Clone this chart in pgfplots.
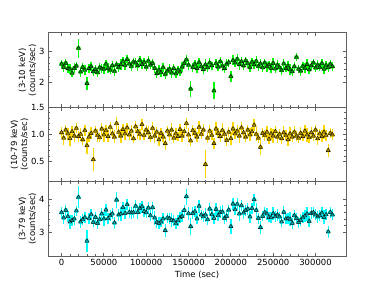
\documentclass[border=0pt]{standalone}
\usepackage{fontspec}
\setmainfont{DejaVu Sans}
\usepackage{pgfplots}
\usepackage{pgfplotstable}
\pgfplotsset{compat=1.18}
\definecolor{framegray}{RGB}{95,95,95}
\definecolor{errA}{RGB}{0,255,0}
\definecolor{errB}{RGB}{255,215,0}
\definecolor{errC}{RGB}{0,255,255}
\definecolor{mkA}{RGB}{20,140,20}
\definecolor{mkB}{RGB}{170,140,10}
\definecolor{mkC}{RGB}{20,160,160}
\pgfplotstableread{
t A ea B eb C ec
0 2.58 0.14 1.03 0.10 3.59 0.17
2500 2.48 0.16 0.93 0.12 3.43 0.19
5000 2.61 0.13 1.08 0.09 3.66 0.16
7500 2.44 0.15 1.01 0.11 3.47 0.18
10000 2.42 0.17 0.92 0.13 3.31 0.21
12500 2.29 0.14 1.05 0.10 3.36 0.17
15000 2.45 0.15 0.97 0.11 3.40 0.18
17500 2.52 0.13 1.11 0.09 3.64 0.16
20000 3.09 0.30 0.96 0.10 4.05 0.33
22500 2.33 0.16 1.00 0.12 3.31 0.19
25000 2.48 0.13 0.90 0.09 3.38 0.16
27500 2.39 0.15 1.07 0.11 3.44 0.18
30000 1.96 0.20 0.79 0.15 2.73 0.32
32500 2.44 0.14 0.95 0.10 3.41 0.17
35000 2.50 0.15 1.02 0.11 3.53 0.18
37500 2.34 0.13 0.53 0.22 3.30 0.16
40000 2.41 0.14 1.06 0.10 3.45 0.17
42500 2.31 0.16 0.98 0.12 3.27 0.19
45000 2.47 0.13 0.94 0.09 3.38 0.16
47500 2.43 0.15 1.10 0.11 3.55 0.18
50000 2.42 0.17 0.99 0.13 3.40 0.21
52500 2.58 0.14 1.07 0.10 3.67 0.17
55000 2.45 0.15 0.96 0.11 3.41 0.18
57500 2.39 0.13 1.13 0.09 3.50 0.16
60000 2.53 0.14 1.01 0.10 3.55 0.17
62500 2.35 0.16 0.95 0.12 3.28 0.19
65000 2.56 0.13 1.20 0.12 3.97 0.25
67500 2.47 0.15 1.04 0.11 3.52 0.18
70000 2.56 0.17 0.97 0.13 3.55 0.21
72500 2.67 0.14 1.09 0.10 3.74 0.17
75000 2.54 0.15 1.01 0.11 3.57 0.18
77500 2.73 0.13 1.12 0.09 3.83 0.16
80000 2.59 0.14 0.99 0.10 3.60 0.17
82500 2.51 0.16 1.06 0.12 3.58 0.19
85000 2.65 0.13 0.92 0.09 3.59 0.16
87500 2.62 0.15 1.14 0.11 3.78 0.18
90000 2.53 0.17 1.05 0.13 3.60 0.21
92500 2.70 0.14 1.00 0.10 3.72 0.17
95000 2.57 0.15 1.18 0.11 3.77 0.18
97500 2.64 0.13 0.98 0.09 3.63 0.16
100000 2.49 0.14 1.08 0.10 3.59 0.17
102500 2.68 0.16 1.03 0.12 3.73 0.19
105000 2.55 0.13 0.94 0.09 3.50 0.16
107500 2.61 0.15 1.11 0.11 3.74 0.18
110000 2.45 0.17 0.97 0.13 3.43 0.21
112500 2.28 0.14 1.04 0.10 3.30 0.17
115000 2.39 0.15 0.90 0.11 3.27 0.18
117500 2.31 0.13 1.02 0.09 3.31 0.16
120000 2.47 0.14 0.95 0.10 3.40 0.17
122500 2.25 0.16 0.83 0.12 3.05 0.19
125000 2.36 0.13 1.06 0.09 3.43 0.16
127500 2.42 0.15 0.99 0.11 3.41 0.18
130000 2.30 0.17 1.08 0.13 3.36 0.21
132500 2.44 0.14 0.93 0.10 3.34 0.17
135000 2.27 0.15 1.01 0.11 3.26 0.18
137500 2.39 0.13 0.96 0.09 3.35 0.16
140000 2.33 0.14 1.09 0.10 3.44 0.17
142500 2.49 0.16 0.97 0.12 3.48 0.19
145000 2.61 0.13 1.05 0.09 3.66 0.16
147500 2.72 0.15 1.20 0.11 4.07 0.24
150000 2.55 0.17 0.99 0.13 3.56 0.21
152500 1.78 0.25 0.88 0.10 3.17 0.25
155000 2.48 0.15 1.07 0.11 3.57 0.18
157500 2.58 0.13 1.02 0.09 3.62 0.16
160000 2.44 0.14 0.95 0.10 3.40 0.17
162500 2.63 0.16 1.13 0.12 3.78 0.19
165000 2.50 0.13 1.00 0.09 3.52 0.16
167500 2.41 0.15 1.08 0.11 3.47 0.18
170000 2.56 0.17 0.44 0.26 3.52 0.21
172500 2.47 0.14 0.93 0.10 3.38 0.17
175000 2.62 0.15 1.06 0.11 3.70 0.18
177500 2.53 0.13 0.98 0.09 3.53 0.16
180000 1.72 0.27 0.83 0.10 3.42 0.17
182500 2.60 0.16 1.10 0.12 3.69 0.19
185000 2.49 0.13 1.02 0.09 3.50 0.16
187500 2.66 0.15 0.96 0.11 3.60 0.18
190000 2.52 0.17 1.07 0.13 3.61 0.21
192500 2.44 0.14 1.00 0.10 3.42 0.17
195000 2.58 0.15 0.89 0.11 3.48 0.18
197500 2.63 0.13 1.04 0.09 3.67 0.16
200000 2.18 0.18 0.92 0.12 3.17 0.22
202500 2.70 0.16 1.10 0.12 3.85 0.19
205000 2.62 0.13 1.01 0.09 3.68 0.16
207500 2.74 0.15 1.06 0.11 3.84 0.18
210000 2.57 0.17 0.97 0.13 3.55 0.21
212500 2.66 0.14 1.12 0.10 3.80 0.17
215000 2.53 0.15 1.03 0.11 3.58 0.18
217500 2.69 0.13 0.95 0.09 3.66 0.16
220000 2.60 0.14 1.08 0.10 3.70 0.17
222500 2.48 0.16 0.99 0.12 3.46 0.19
225000 2.64 0.13 1.05 0.09 3.72 0.16
227500 2.56 0.15 1.17 0.11 3.98 0.18
230000 2.67 0.17 1.00 0.13 3.66 0.21
232500 2.51 0.14 0.93 0.10 3.42 0.17
235000 2.59 0.15 0.76 0.14 3.14 0.20
237500 2.47 0.13 1.02 0.09 3.48 0.16
240000 2.62 0.14 0.98 0.10 3.59 0.17
242500 2.50 0.16 1.04 0.12 3.55 0.19
245000 2.56 0.13 0.91 0.09 3.45 0.16
247500 2.45 0.15 1.01 0.11 3.44 0.18
250000 2.61 0.17 0.97 0.13 3.56 0.21
252500 2.43 0.14 1.05 0.10 3.47 0.17
255000 2.55 0.15 0.95 0.11 3.52 0.18
257500 2.47 0.13 1.00 0.09 3.46 0.16
260000 2.38 0.14 0.92 0.10 3.31 0.17
262500 2.59 0.16 1.03 0.12 3.60 0.19
265000 2.44 0.13 0.98 0.09 3.40 0.16
267500 2.52 0.15 0.90 0.11 3.41 0.18
270000 2.40 0.17 1.01 0.13 3.39 0.21
272500 2.34 0.14 0.95 0.10 3.27 0.17
275000 2.50 0.15 1.04 0.11 3.50 0.18
277500 2.80 0.13 0.97 0.09 3.42 0.16
280000 2.42 0.14 0.93 0.10 3.30 0.17
282500 2.36 0.16 1.02 0.12 3.36 0.19
285000 2.51 0.13 0.96 0.09 3.44 0.16
287500 2.45 0.15 1.06 0.11 3.49 0.18
290000 2.57 0.17 0.99 0.13 3.55 0.21
292500 2.40 0.14 0.94 0.10 3.33 0.17
295000 2.53 0.15 1.03 0.11 3.57 0.18
297500 2.62 0.13 0.97 0.09 3.59 0.16
300000 2.46 0.14 1.08 0.10 3.52 0.17
302500 2.55 0.16 0.92 0.12 3.46 0.19
305000 2.48 0.13 1.01 0.09 3.50 0.16
307500 2.60 0.15 0.96 0.11 3.58 0.18
310000 2.42 0.17 1.04 0.13 3.45 0.21
312500 2.54 0.14 0.98 0.10 3.53 0.17
315000 2.47 0.15 0.70 0.12 3.01 0.18
317500 2.58 0.13 1.02 0.09 3.60 0.16
320000 2.50 0.14 0.99 0.10 3.52 0.17
}\lc
\pgfplotsset{
  lcpanel/.style={
    scale only axis, width=298bp, height=74.33bp,
    xmin=-16000, xmax=336000,
    xtick={0,50000,100000,150000,200000,250000,300000},
    minor x tick num=4, minor y tick num=4,
    tick align=inside, xtick pos=both, ytick pos=both,
    major tick length=3.5bp, minor tick length=2bp,
    axis line style={framegray, line width=1bp},
    every tick/.style={framegray, line width=0.8bp},
    every minor tick/.style={framegray, line width=0.6bp},
    tick label style={font=\fontsize{8.5}{10}\selectfont, text=black},
    label style={font=\fontsize{8.5}{10}\selectfont},
    ylabel style={align=center},
    ylabel shift=-4bp, xlabel shift=-2bp,
    scaled x ticks=false,
    /pgf/number format/assume math mode=true,
    x tick label style={/pgf/number format/.cd, fixed, 1000 sep={}},
  },
  errplot/.style={
    color=#1, mark=none, only marks, forget plot,
    error bars/.cd, y dir=both, y explicit,
    error bar style={color=#1, solid, line width=1.4bp}, error mark=none,
  },
  mkplot/.style={
    color=#1, only marks, mark=triangle*, mark size=2.4bp,
    mark options={color=#1, fill=#1, draw=black, line width=0.35bp},
  },
}
\begin{document}
\begin{tikzpicture}
\useasboundingbox (0,0) rectangle (384bp,288bp);
% panel 1
\begin{axis}[lcpanel, at={(48bp,180.67bp)}, anchor=south west,
  ymin=1.19, ymax=3.58, ytick={2,3}, xticklabels={},
  ylabel={(3-10 keV)\\(counts/sec)}]
\addplot[errplot=errA] table[x=t, y=A, y error=ea] {\lc};
\addplot[mkplot=mkA] table[x=t, y=A] {\lc};
\end{axis}
% panel 2
\begin{axis}[lcpanel, at={(48bp,106.33bp)}, anchor=south west,
  ymin=0.12, ymax=1.5, ytick={0.5,1.0,1.5}, xticklabels={},
  y tick label style={/pgf/number format/.cd, fixed, fixed zerofill, precision=1},
  ylabel={(10-79 keV)\\(counts/sec)}]
\addplot[errplot=errB] table[x=t, y=B, y error=eb] {\lc};
\addplot[mkplot=mkB] table[x=t, y=B] {\lc};
\end{axis}
% panel 3
\begin{axis}[lcpanel, at={(48bp,32bp)}, anchor=south west,
  ymin=2.28, ymax=4.52, ytick={3,4},
  xlabel={Time (sec)},
  ylabel={(3-79 keV)\\(counts/sec)}]
\addplot[errplot=errC] table[x=t, y=C, y error=ec] {\lc};
\addplot[mkplot=mkC] table[x=t, y=C] {\lc};
\end{axis}
\end{tikzpicture}
\end{document}
